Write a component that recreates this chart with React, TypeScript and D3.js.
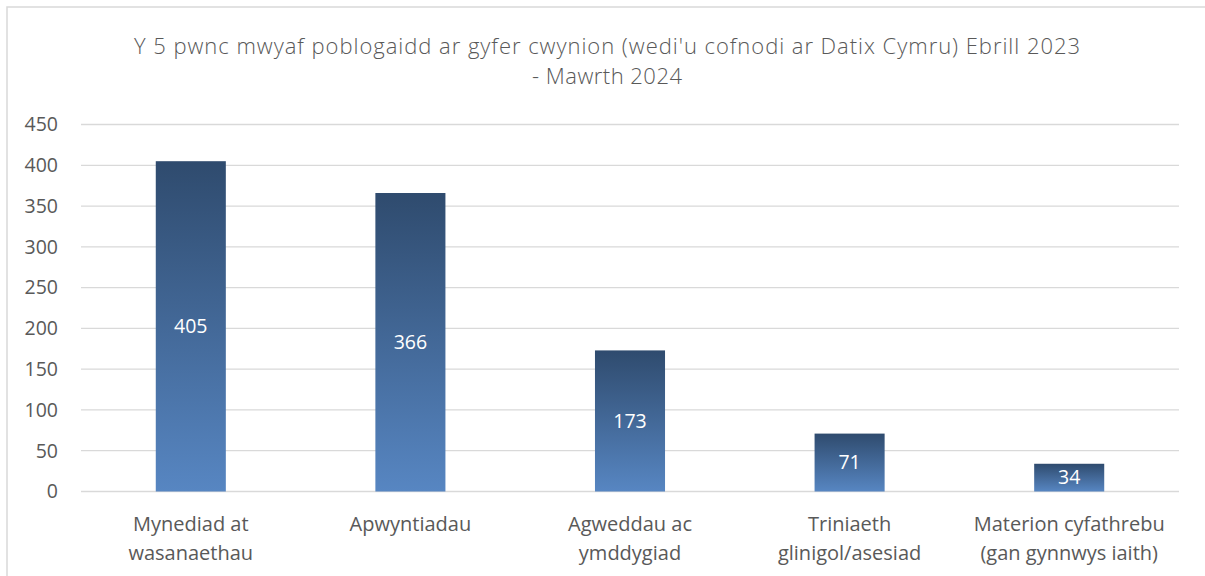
import React from "react";
import * as d3 from "d3";

const categories: string[][] = [
  ["Mynediad at", "wasanaethau"],
  ["Apwyntiadau"],
  ["Agweddau ac", "ymddygiad"],
  ["Triniaeth", "glinigol/asesiad"],
  ["Materion cyfathrebu", "(gan gynnwys iaith)"],
];
const values: number[] = [405, 366, 173, 71, 34];
const yTicks: number[] = [0, 50, 100, 150, 200, 250, 300, 350, 400, 450];
const titleLines: string[] = [
  "Y 5 pwnc mwyaf poblogaidd ar gyfer cwynion (wedi'u cofnodi ar Datix Cymru) Ebrill 2023",
  "- Mawrth 2024",
];
const titleWidths: number[] = [946, 150];

const W = 1205;
const H = 576;
const FONT = "'Open Sans', 'Noto Sans', sans-serif";

export default function App() {
  const left = 81;
  const right = 1179;
  const y = d3.scaleLinear().domain([0, 450]).range([491.5, 124.5]);
  const x = d3
    .scaleBand<number>()
    .domain(values.map((_, i) => i))
    .range([left, right])
    .paddingInner(0.681)
    .paddingOuter(0.3405);

  return (
    <svg
      width={W}
      height={H}
      style={{ position: "absolute", left: 0, top: 0, background: "#fff" }}
      fontFamily={FONT}
    >
      <defs>
        <linearGradient id="barGrad" x1="0" y1="0" x2="0" y2="1">
          <stop offset="0%" stopColor="#2f4b6e" />
          <stop offset="100%" stopColor="#5786c2" />
        </linearGradient>
      </defs>
      <rect x={0} y={0} width={W} height={H} fill="#fff" />
      {/* chart frame */}
      <path d={`M7,${H + 2} V7 H${W + 2}`} fill="none" stroke="#d9d9d9" strokeWidth={1.5} />

      {/* title */}
      {titleLines.map((t, i) => (
        <text
          key={i}
          x={607}
          y={54 + i * 30}
          textAnchor="middle"
          fontSize={22}
          fill="#595959"
          fontWeight={300}
          textLength={titleWidths[i]}
          lengthAdjust="spacing"
        >
          {t}
        </text>
      ))}

      {/* gridlines */}
      {yTicks.map((t) => (
        <line
          key={t}
          x1={left}
          x2={right}
          y1={y(t)}
          y2={y(t)}
          stroke="#d9d9d9"
          strokeWidth={1.3}
        />
      ))}

      {/* y tick labels */}
      {yTicks.map((t) => (
        <text
          key={"l" + t}
          x={58}
          y={y(t)}
          dy="0.35em"
          textAnchor="end"
          fontSize={19.5}
          fill="#595959"
        >
          {t}
        </text>
      ))}

      {/* bars */}
      {values.map((v, i) => (
        <rect
          key={"b" + i}
          x={x(i)}
          y={y(v)}
          width={x.bandwidth()}
          height={y(0) - y(v)}
          fill="url(#barGrad)"
        />
      ))}

      {/* data labels */}
      {values.map((v, i) => (
        <text
          key={"d" + i}
          x={(x(i) as number) + x.bandwidth() / 2}
          y={(y(v) + y(0)) / 2}
          dy="0.35em"
          textAnchor="middle"
          fontSize={19.5}
          fill="#ffffff"
        >
          {v}
        </text>
      ))}

      {/* category labels */}
      {categories.map((lines, i) => (
        <text
          key={"c" + i}
          x={(x(i) as number) + x.bandwidth() / 2}
          textAnchor="middle"
          fontSize={20}
          fill="#595959"
        >
          {lines.map((ln, j) => (
            <tspan key={j} x={(x(i) as number) + x.bandwidth() / 2} y={531 + j * 29}>
              {ln}
            </tspan>
          ))}
        </text>
      ))}
    </svg>
  );
}
